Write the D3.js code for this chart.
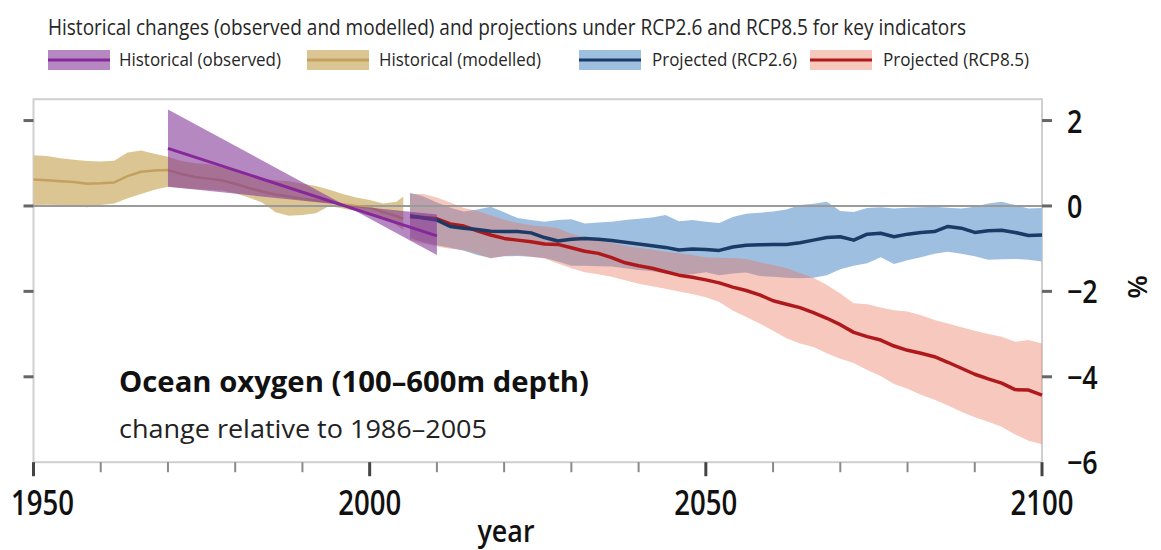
<!DOCTYPE html>
<html><head><meta charset="utf-8">
<script src="https://cdn.jsdelivr.net/npm/d3@7"></script>
<style>body{margin:0;background:#fff} svg{display:block}</style>
</head><body>
<svg id="c" width="1161" height="550"></svg>
<script>
// ---------------- DATA ----------------
const titleText = "Historical changes (observed and modelled) and projections under RCP2.6 and RCP8.5 for key indicators";
const legendLabels = ["Historical (observed)", "Historical (modelled)", "Projected (RCP2.6)", "Projected (RCP8.5)"];
const panelTitle = "Ocean oxygen (100\u2013600m depth)";
const panelSubtitle = "change relative to 1986\u20132005";
const xTickMajor = [1950, 2000, 2050, 2100];
const xTickMinor = [1960, 1970, 1980, 1990, 2010, 2020, 2030, 2040, 2060, 2070, 2080, 2090];
const yTicks = [2, 0, -2, -4, -6];
const xLabel = "year";
const yLabel = "%";

// Historical (modelled)
const modYears = [1950,1952,1954,1956,1958,1960,1962,1964,1966,1968,1970,1972,1974,1976,1978,1980,1982,1984,1986,1988,1990,1992,1994,1996,1998,2000,2002,2004,2005];
const modMid   = [0.62,0.60,0.58,0.56,0.52,0.53,0.55,0.70,0.80,0.83,0.84,0.75,0.68,0.64,0.60,0.52,0.42,0.34,0.27,0.22,0.17,0.13,0.09,0.04,0.00,-0.04,-0.14,-0.24,-0.30];
const modHigh  = [1.19,1.17,1.12,1.08,1.05,1.04,1.06,1.25,1.30,1.22,1.15,1.05,1.00,0.98,0.90,0.84,0.74,0.64,0.60,0.58,0.52,0.47,0.38,0.28,0.20,0.14,0.06,0.10,0.22];
const modLow   = [0.02,0.03,0.02,0.00,-0.03,0.02,0.06,0.18,0.28,0.38,0.45,0.42,0.40,0.38,0.36,0.30,0.20,0.08,-0.15,-0.23,-0.21,-0.17,0.00,-0.06,-0.12,-0.19,-0.29,-0.45,-0.56];

// Historical (observed) linear trend with uncertainty
const obsYears = [1970, 2010];
const obsMid   = [1.35, -0.70];
const obsEdgeA = [2.26, -1.15];
const obsEdgeB = [0.45, -0.20];

// Projections
const projYears = [2006,2008,2010,2012,2014,2016,2018,2020,2022,2024,2026,2028,2030,2032,2034,2036,2038,2040,2042,2044,2046,2048,2050,2052,2054,2056,2058,2060,2062,2064,2066,2068,2070,2072,2074,2076,2078,2080,2082,2084,2086,2088,2090,2092,2094,2096,2098,2100];
const rcp26Mid  = [-0.23,-0.28,-0.33,-0.48,-0.52,-0.55,-0.59,-0.60,-0.60,-0.63,-0.74,-0.82,-0.78,-0.76,-0.78,-0.81,-0.85,-0.89,-0.93,-0.97,-1.03,-1.01,-1.02,-1.04,-0.96,-0.92,-0.91,-0.90,-0.90,-0.86,-0.80,-0.74,-0.72,-0.80,-0.66,-0.64,-0.72,-0.66,-0.62,-0.60,-0.48,-0.52,-0.62,-0.58,-0.57,-0.62,-0.69,-0.68];
const rcp26High = [0.31,0.22,0.08,-0.04,-0.13,-0.08,-0.02,-0.15,-0.28,-0.33,-0.37,-0.33,-0.31,-0.41,-0.39,-0.37,-0.33,-0.30,-0.27,-0.21,-0.36,-0.33,-0.37,-0.40,-0.26,-0.18,-0.16,-0.13,-0.08,0.02,0.05,0.10,-0.12,-0.14,-0.05,-0.03,-0.06,-0.04,-0.03,-0.02,-0.04,-0.06,-0.02,0.06,0.10,0.02,-0.06,-0.05];
const rcp26Low  = [-0.75,-0.85,-0.92,-0.98,-1.05,-1.15,-1.22,-1.18,-1.17,-1.19,-1.22,-1.30,-1.40,-1.40,-1.41,-1.42,-1.46,-1.50,-1.53,-1.58,-1.62,-1.60,-1.55,-1.62,-1.58,-1.56,-1.64,-1.66,-1.68,-1.69,-1.68,-1.62,-1.48,-1.40,-1.34,-1.20,-1.36,-1.27,-1.20,-1.12,-1.07,-1.12,-1.18,-1.26,-1.25,-1.24,-1.26,-1.30];
const rcp85Mid  = [-0.25,-0.27,-0.30,-0.42,-0.47,-0.58,-0.68,-0.76,-0.80,-0.84,-0.89,-0.90,-0.98,-1.06,-1.11,-1.21,-1.33,-1.40,-1.46,-1.54,-1.62,-1.67,-1.73,-1.80,-1.90,-1.98,-2.08,-2.22,-2.30,-2.38,-2.50,-2.63,-2.78,-2.96,-3.06,-3.14,-3.28,-3.38,-3.45,-3.53,-3.66,-3.80,-3.94,-4.05,-4.15,-4.30,-4.31,-4.43];
const rcp85High = [0.28,0.28,0.20,0.08,-0.05,-0.12,-0.22,-0.32,-0.40,-0.45,-0.48,-0.52,-0.65,-0.72,-0.80,-0.87,-0.93,-0.98,-1.02,-1.07,-1.11,-1.15,-1.20,-1.21,-1.22,-1.24,-1.32,-1.38,-1.45,-1.57,-1.68,-1.85,-2.05,-2.28,-2.30,-2.38,-2.44,-2.47,-2.56,-2.67,-2.75,-2.84,-2.92,-3.00,-3.06,-3.18,-3.14,-3.22];
const rcp85Low  = [-0.80,-0.88,-0.95,-1.00,-1.03,-1.12,-1.23,-1.17,-1.15,-1.19,-1.23,-1.35,-1.46,-1.55,-1.60,-1.66,-1.74,-1.82,-1.88,-1.94,-2.00,-2.06,-2.14,-2.25,-2.45,-2.60,-2.75,-2.92,-3.10,-3.22,-3.30,-3.45,-3.58,-3.68,-3.84,-3.98,-4.17,-4.28,-4.42,-4.54,-4.67,-4.82,-4.95,-5.05,-5.17,-5.35,-5.50,-5.58];

// ---------------- CHART ----------------
const svg = d3.select("#c");
const humanist = "'Open Sans', 'Noto Sans', sans-serif";

function fitWidth(sel, w) {
  sel.attr("textLength", w).attr("lengthAdjust", "spacingAndGlyphs");
}
function condense(sel, f) {
  sel.each(function () {
    const w = this.getComputedTextLength();
    d3.select(this).attr("textLength", w * f).attr("lengthAdjust", "spacingAndGlyphs");
  });
}

const x = d3.scaleLinear().domain([1950, 2100]).range([33.5, 1042]);
const y = d3.scaleLinear().domain([-6, 2.5]).range([462.2, 99.2]);

const zip = (years, a, b) => years.map((yr, i) => ({yr, a: a[i], b: b ? b[i] : null}));
const area = d3.area().x(d => x(d.yr)).y0(d => y(d.a)).y1(d => y(d.b));
const line = d3.line().x(d => x(d.yr)).y(d => y(d.a));

const col = {
  tanBand: "#dbc693", tanLine: "#c4a05e",
  purBand: "rgba(130,50,150,0.58)", purLine: "#86279a",
  bluBand: "#9fbfe1", bluLine: "#1b3a66",
  redBand: "rgba(232,117,92,0.4)", redLine: "#b0191c"
};

// Title
svg.append("text").attr("x", 48).attr("y", 35)
  .attr("font-family", humanist).attr("font-size", 21).attr("fill", "#262626")
  .text(titleText).call(fitWidth, 918);

// Legend
const legendItems = [
  {label: legendLabels[0], band: col.purBand, line: col.purLine, sx: 48, tx: 119, tw: 162},
  {label: legendLabels[1], band: col.tanBand, line: col.tanLine, sx: 307, tx: 379, tw: 162},
  {label: legendLabels[2], band: col.bluBand, line: col.bluLine, sx: 579, tx: 652, tw: 145},
  {label: legendLabels[3], band: "#f7c9bd", line: col.redLine, sx: 810, tx: 883, tw: 146}
];
const lg = svg.append("g");
legendItems.forEach(d => {
  lg.append("rect").attr("x", d.sx).attr("y", 50).attr("width", 62).attr("height", 20).attr("fill", d.band);
  lg.append("line").attr("x1", d.sx).attr("x2", d.sx + 62).attr("y1", 60).attr("y2", 60)
    .attr("stroke", d.line).attr("stroke-width", 3);
  lg.append("text").attr("x", d.tx).attr("y", 66)
    .attr("font-family", humanist).attr("font-size", 19).attr("fill", "#262626")
    .text(d.label).call(fitWidth, d.tw);
});

// Frame
const plot = svg.append("g");
plot.append("rect").attr("x", x(1950)).attr("y", y(2.5)).attr("width", x(2100) - x(1950)).attr("height", y(-6) - y(2.5))
  .attr("fill", "none").attr("stroke", "#cfcfcf").attr("stroke-width", 2);

// Bands
plot.append("path").datum(zip(modYears, modLow, modHigh)).attr("d", area).attr("fill", col.tanBand);
plot.append("path").datum(zip(projYears, rcp26Low, rcp26High)).attr("d", area).attr("fill", col.bluBand);
plot.append("path").datum(zip(projYears, rcp85Low, rcp85High)).attr("d", area).attr("fill", col.redBand);

// Zero line
plot.append("line").attr("x1", x(1950)).attr("x2", x(2100)).attr("y1", y(0)).attr("y2", y(0))
  .attr("stroke", "#9a9a9a").attr("stroke-width", 2);

// Median lines
plot.append("path").datum(zip(modYears, modMid)).attr("d", line).attr("fill", "none")
  .attr("stroke", col.tanLine).attr("stroke-width", 2.5).attr("stroke-linejoin", "round");
plot.append("path").datum(zip(projYears, rcp85Mid)).attr("d", line).attr("fill", "none")
  .attr("stroke", col.redLine).attr("stroke-width", 3.5).attr("stroke-linejoin", "round");
plot.append("path").datum(zip(projYears, rcp26Mid)).attr("d", line).attr("fill", "none")
  .attr("stroke", col.bluLine).attr("stroke-width", 3.5).attr("stroke-linejoin", "round");

// Observed trend
plot.append("path").datum(zip(obsYears, obsEdgeA, obsEdgeB)).attr("d", area).attr("fill", col.purBand);
plot.append("path").datum(zip(obsYears, obsMid)).attr("d", line).attr("fill", "none")
  .attr("stroke", col.purLine).attr("stroke-width", 3);

// X axis ticks
const ax = svg.append("g");
ax.selectAll("line.minor").data(xTickMinor).join("line")
  .attr("x1", d => x(d)).attr("x2", d => x(d)).attr("y1", y(-6)).attr("y2", y(-6) + 10)
  .attr("stroke", "#8a8a8a").attr("stroke-width", 2);
ax.selectAll("line.major").data(xTickMajor).join("line")
  .attr("x1", d => x(d)).attr("x2", d => x(d)).attr("y1", y(-6)).attr("y2", y(-6) + 14)
  .attr("stroke", "#444").attr("stroke-width", 3);
ax.selectAll("text.xl").data(xTickMajor).join("text")
  .attr("x", (d, i) => x(d) + (i === 0 ? 9 : 0)).attr("y", 515)
  .attr("text-anchor", "middle").attr("font-family", humanist).attr("font-weight", 600)
  .attr("font-size", 34).attr("fill", "#111").text(d => d)
  .call(fitWidth, 63);
ax.append("text").attr("x", 506).attr("y", 542).attr("text-anchor", "middle")
  .attr("font-family", humanist).attr("font-weight", 600).attr("font-size", 30).attr("fill", "#111")
  .text(xLabel).call(fitWidth, 57);

// Y axis ticks (both sides) and right labels
const yt = yTicks.filter(v => v > -6);
ax.selectAll("line.yl").data(yt).join("line")
  .attr("x1", x(1950) - 10).attr("x2", x(1950)).attr("y1", d => y(d)).attr("y2", d => y(d))
  .attr("stroke", "#666").attr("stroke-width", 3);
ax.selectAll("line.yr").data(yt).join("line")
  .attr("x1", x(2100)).attr("x2", x(2100) + 10).attr("y1", d => y(d)).attr("y2", d => y(d))
  .attr("stroke", "#666").attr("stroke-width", 3);
ax.selectAll("text.yl").data(yTicks).join("text")
  .attr("x", 1067).attr("y", d => y(d) + 12)
  .attr("font-family", humanist).attr("font-weight", 600).attr("font-size", 32).attr("fill", "#111")
  .text(d => d < 0 ? "\u2212" + Math.abs(d) : String(d))
  .call(condense, 0.84);
ax.append("text").attr("transform", "translate(1128,287) rotate(90)")
  .attr("text-anchor", "middle").attr("font-family", humanist).attr("font-weight", 600)
  .attr("font-size", 27).attr("fill", "#111").text(yLabel);

// Panel text
svg.append("text").attr("x", 119).attr("y", 392)
  .attr("font-family", humanist).attr("font-weight", "bold").attr("font-size", 29).attr("fill", "#111")
  .text(panelTitle).call(fitWidth, 470);
svg.append("text").attr("x", 119).attr("y", 438)
  .attr("font-family", humanist).attr("font-size", 26).attr("fill", "#222")
  .text(panelSubtitle).call(fitWidth, 368);
</script>
</body></html>
